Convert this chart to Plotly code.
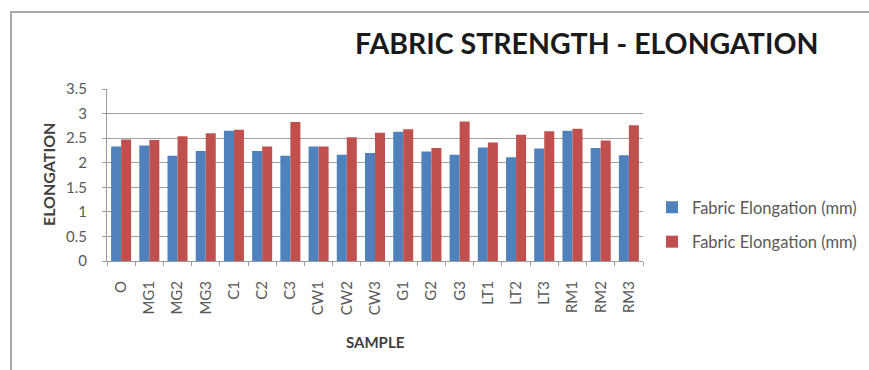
import plotly.graph_objects as go

samples = ["O", "MG1", "MG2", "MG3", "C1", "C2", "C3", "CW1", "CW2", "CW3",
           "G1", "G2", "G3", "LT1", "LT2", "LT3", "RM1", "RM2", "RM3"]
elong_a = [2.33, 2.35, 2.14, 2.24, 2.65, 2.24, 2.14, 2.33, 2.16, 2.20,
           2.63, 2.23, 2.16, 2.31, 2.11, 2.29, 2.65, 2.30, 2.15]
elong_b = [2.47, 2.46, 2.54, 2.60, 2.67, 2.33, 2.83, 2.33, 2.52, 2.61,
           2.68, 2.30, 2.84, 2.41, 2.57, 2.64, 2.69, 2.45, 2.76]
series_name = "Fabric Elongation (mm)"
y_ticks = [0, 0.5, 1, 1.5, 2, 2.5, 3, 3.5]
y_tick_text = ["0", "0.5", "1", "1.5", "2", "2.5", "3", "3.5"]

FONT = "Lato, 'Open Sans', sans-serif"
W, H = 869, 370
L, R, T, B = 107, 226, 89, 109
pw, ph = W - L - R, H - T - B


def px_x(p):
    return (p - L) / pw


def px_y(p):
    return (H - B - p) / ph


fig = go.Figure()
fig.add_bar(x=samples, y=elong_a, name=series_name, marker_color="#4F81BD",
            marker_line_width=0, legendgroup="a")
fig.add_bar(x=samples, y=elong_b, name=series_name, marker_color="#C0504D",
            marker_line_width=0, legendgroup="b")

fig.update_layout(
    width=W, height=H,
    margin=dict(l=L, r=R, t=T, b=B, autoexpand=False),
    paper_bgcolor="white", plot_bgcolor="white",
    barmode="group", bargap=0.29, bargroupgap=0,
    font=dict(family=FONT, color="#595959"),
    showlegend=True,
    legend=dict(xref="container", yref="container", x=652 / W, y=1 - 190 / H,
                xanchor="left", yanchor="top",
                font=dict(size=16.5, color="#595959"), traceorder="grouped",
                tracegroupgap=10, itemwidth=30, bgcolor="rgba(0,0,0,0)"),
    xaxis=dict(type="category", tickangle=-90, tickfont=dict(size=15, color="#595959"),
               showline=True, linecolor="#9a9a9a", linewidth=1,
               ticks="outside", ticklen=4, tickcolor="#9a9a9a", tickson="boundaries",
               ticklabelstandoff=13, showgrid=False),
    yaxis=dict(range=[0, 3.5], tickvals=y_ticks, ticktext=y_tick_text,
               tickfont=dict(size=15, color="#595959"),
               showgrid=True, gridcolor="#a0a0a0", gridwidth=1,
               showline=True, linecolor="#9a9a9a", linewidth=1,
               ticks="outside", ticklen=4, tickcolor="#9a9a9a",
               ticklabelstandoff=12, zeroline=False),
)

fig.add_annotation(text="<b>FABRIC STRENGTH - ELONGATION</b>", xref="paper", yref="paper",
                   x=px_x(586), y=px_y(43), xanchor="center", yanchor="middle",
                   showarrow=False, font=dict(size=28.5, color="#1a1a1a", family=FONT))
fig.add_annotation(text="<b>ELONGATION</b>", xref="paper", yref="paper",
                   x=px_x(48), y=px_y(175), xanchor="center", yanchor="middle",
                   showarrow=False, textangle=-90,
                   font=dict(size=16, color="#404040", family=FONT))
fig.add_annotation(text="<b>SAMPLE</b>", xref="paper", yref="paper",
                   x=px_x(375), y=px_y(342), xanchor="center", yanchor="middle",
                   showarrow=False, font=dict(size=15, color="#404040", family=FONT))

# chart frame
fig.add_shape(type="rect", xref="paper", yref="paper",
              x0=px_x(11), x1=px_x(W + 10), y0=px_y(H + 10), y1=px_y(12),
              line=dict(color="#a8a8a8", width=2), fillcolor="rgba(0,0,0,0)", layer="below")

fig.write_html("out.html")
